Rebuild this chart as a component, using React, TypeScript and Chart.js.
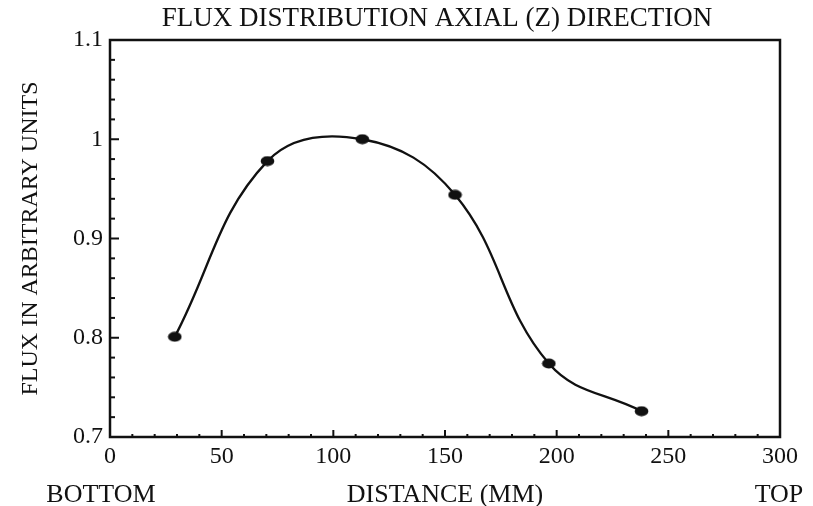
import { useEffect, useRef } from "react";
import { Chart, registerables } from "chart.js";

Chart.register(...registerables);

// ---- data ----
const distances = [29, 70.5, 113, 154.5, 196.5, 238];
const flux = [0.801, 0.978, 1.0, 0.944, 0.774, 0.726];
const xTickValues = [0, 50, 100, 150, 200, 250, 300];
const yTickLabels = ["0.7", "0.8", "0.9", "1", "1.1"];
const chartTitle = "FLUX DISTRIBUTION AXIAL (Z) DIRECTION";
const xTitle = "DISTANCE (MM)";
const yTitle = "FLUX IN ARBITRARY UNITS";
const xEndLabels = ["BOTTOM", "TOP"];

const INK = "#111111";
const SERIF = '"Liberation Serif", "Times New Roman", serif';

const framePlugin = {
  id: "frame",
  afterDraw(chart: any) {
    const { ctx, chartArea, scales } = chart;
    const { left, right, top, bottom } = chartArea;
    const x = scales.x;
    const y = scales.y;
    ctx.save();
    ctx.strokeStyle = INK;
    ctx.fillStyle = INK;
    // box
    ctx.lineWidth = 2.5;
    ctx.strokeRect(left, top, right - left, bottom - top);
    // x ticks (inward)
    ctx.lineWidth = 2;
    for (let v = 0; v <= 300; v += 10) {
      const px = x.getPixelForValue(v);
      const major = v % 50 === 0;
      ctx.beginPath();
      ctx.moveTo(px, bottom);
      ctx.lineTo(px, bottom - (major ? 7 : 3));
      ctx.stroke();
    }
    // y ticks (inward)
    for (let i = 0; i <= 20; i++) {
      const v = 0.7 + i * 0.02;
      const py = y.getPixelForValue(v);
      const major = i % 5 === 0;
      ctx.beginPath();
      ctx.moveTo(left, py);
      ctx.lineTo(left + (major ? 9 : 5), py);
      ctx.stroke();
    }
    // title
    ctx.textAlign = "center";
    ctx.textBaseline = "middle";
    ctx.font = "27px " + SERIF;
    ctx.fillText(chartTitle, 437, 19);
    // bottom / top labels
    ctx.font = "26px " + SERIF;
    ctx.fillText(xEndLabels[0], 101, 495);
    ctx.fillText(xEndLabels[1], 779, 495);
    ctx.restore();
  },
};

export default function App() {
  const ref = useRef<HTMLCanvasElement | null>(null);

  useEffect(() => {
    document.body.style.margin = "0";
    const canvas = ref.current;
    if (!canvas) return;

    const dot = document.createElement("canvas");
    dot.width = 15;
    dot.height = 11;
    const dc = dot.getContext("2d");
    if (dc) {
      dc.fillStyle = INK;
      dc.beginPath();
      dc.ellipse(7.5, 5.5, 6.8, 5, 0, 0, Math.PI * 2);
      dc.fill();
    }

    const chart = new Chart(canvas, {
      type: "line",
      data: {
        datasets: [
          {
            data: distances.map((d, i) => ({ x: d, y: flux[i] })),
            borderColor: INK,
            backgroundColor: INK,
            borderWidth: 2.3,
            tension: 0.4,
            pointStyle: dot as any,
            pointRadius: 6,
            fill: false,
          },
        ],
      },
      options: {
        responsive: false,
        animation: false,
        events: [],
        layout: { padding: { left: 0, right: 33, top: 40, bottom: 0 } },
        plugins: {
          legend: { display: false },
          tooltip: { enabled: false },
          title: { display: false },
        },
        scales: {
          x: {
            type: "linear",
            min: 0,
            max: 300,
            afterBuildTicks: (s: any) => {
              s.ticks = xTickValues.map((v) => ({ value: v }));
            },
            afterFit: (s: any) => {
              s.height = 69;
            },
            grid: { display: false, drawTicks: false },
            border: { display: false },
            ticks: {
              color: INK,
              padding: 5,
              font: { family: SERIF, size: 24 },
              maxRotation: 0,
            },
            title: {
              display: true,
              text: xTitle,
              color: INK,
              font: { family: SERIF, size: 26, lineHeight: 1 },
              padding: { top: 0, bottom: -2 },
            },
          },
          y: {
            type: "linear",
            min: 0.7,
            max: 1.1,
            afterFit: (s: any) => {
              s.width = 110;
            },
            grid: { display: false, drawTicks: false },
            border: { display: false },
            ticks: {
              stepSize: 0.1,
              color: INK,
              padding: 7,
              font: { family: SERIF, size: 24 },
              callback: (_v: any, i: number) => yTickLabels[i],
            },
            title: {
              display: true,
              text: yTitle,
              color: INK,
              font: { family: SERIF, size: 24, lineHeight: 1 },
              padding: { top: 19, bottom: 0 },
            },
          },
        },
      },
      plugins: [framePlugin],
    });

    return () => chart.destroy();
  }, []);

  return (
    <div style={{ width: 813, height: 506, background: "#fff" }}>
      <canvas ref={ref} width={813} height={506} style={{ display: "block" }} />
    </div>
  );
}
